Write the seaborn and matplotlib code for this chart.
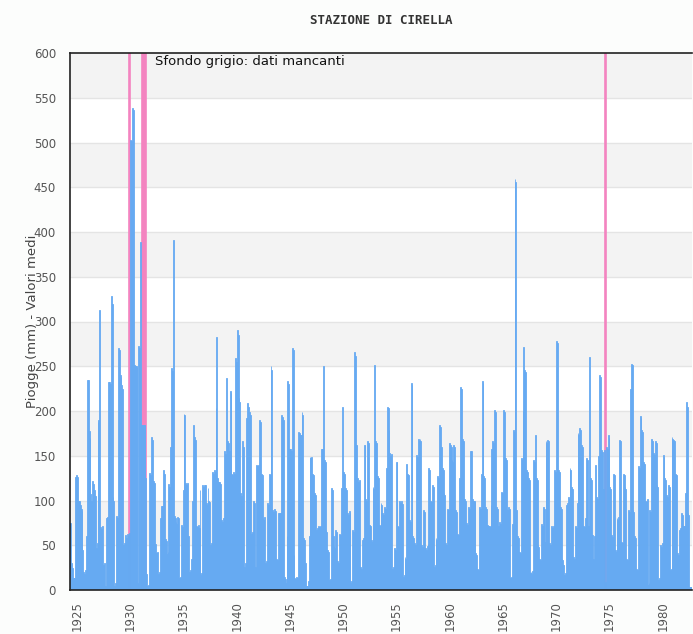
import numpy as np
import pandas as pd
import matplotlib
matplotlib.use("Agg")
import matplotlib.pyplot as plt
import seaborn as sns

# monthly rainfall (mm), May 1924 -> Sep 1982
piogge_1924_1929 = [
    75, 30, 25, 13, 13, 13, 126, 128,
    126, 100, 100, 95, 90, 88, 45, 20, 18, 22, 60, 235,
    235, 178, 170, 107, 100, 122, 118, 112, 105, 47, 52, 188,
    190, 313, 70, 68, 72, 28, 30, 3, 5, 80, 82, 232,
    232, 230, 328, 320, 104, 100, 5, 8, 83, 80, 270, 268,
    240, 238, 229, 225, 50, 52, 61, 58, 63, 60, 62, 64,
]
piogge_1930_1939 = [
    503, 502, 539, 536, 251, 250, 250, 249, 8, 273, 270, 389,
    184, 184, 184, 184, 184, 125, 18, 5, 6, 131, 128, 171,
    168, 78, 122, 120, 51, 41, 43, 18, 20, 80, 78, 94,
    94, 134, 130, 57, 55, 40, 42, 118, 115, 160, 248, 245,
    391, 83, 80, 76, 74, 82, 80, 13, 15, 73, 70, 112,
    197, 195, 119, 117, 119, 60, 20, 22, 35, 33, 100, 184,
    171, 168, 71, 70, 73, 69, 112, 17, 19, 117, 115, 117,
    117, 97, 95, 114, 100, 98, 50, 52, 132, 130, 134, 132,
    203, 283, 125, 121, 121, 118, 78, 76, 80, 78, 155, 152,
    237, 166, 164, 155, 222, 220, 130, 128, 132, 130, 259, 255,
]
piogge_1940_1949 = [
    291, 285, 214, 210, 108, 105, 166, 160, 26, 30, 192, 190,
    209, 205, 199, 196, 63, 65, 99, 97, 24, 26, 140, 138,
    140, 190, 188, 130, 128, 80, 78, 82, 30, 32, 97, 95,
    130, 128, 250, 246, 89, 87, 90, 88, 35, 33, 86, 84,
    86, 86, 195, 193, 190, 15, 12, 8, 60, 233, 230, 158,
    158, 155, 270, 268, 39, 13, 12, 14, 13, 177, 175, 173,
    173, 199, 196, 58, 56, 30, 4, 5, 10, 60, 149, 147,
    149, 130, 128, 108, 106, 67, 69, 68, 71, 70, 72, 158,
    158, 250, 145, 143, 67, 65, 45, 43, 11, 12, 114, 112,
    60, 49, 47, 67, 65, 32, 30, 63, 61, 114, 112, 205,
]
piogge_1950_1959 = [
    132, 130, 114, 112, 86, 84, 88, 86, 8, 10, 67, 65,
    266, 262, 162, 123, 125, 121, 123, 26, 24, 56, 58, 162,
    162, 102, 100, 166, 164, 73, 71, 56, 54, 115, 113, 251,
    166, 164, 127, 125, 73, 71, 97, 95, 86, 84, 93, 91,
    136, 205, 203, 179, 153, 150, 152, 24, 26, 47, 45, 143,
    143, 71, 70, 99, 97, 99, 96, 15, 17, 37, 35, 141,
    130, 128, 78, 76, 231, 229, 60, 58, 52, 50, 151, 149,
    169, 167, 169, 166, 50, 48, 89, 87, 47, 45, 49, 51,
    136, 134, 100, 98, 117, 115, 26, 28, 58, 56, 127, 125,
    184, 182, 160, 136, 134, 108, 106, 52, 50, 91, 89, 164,
]
piogge_1960_1969 = [
    162, 160, 145, 143, 162, 160, 89, 87, 63, 61, 125, 123,
    227, 225, 169, 167, 102, 100, 75, 73, 6, 93, 91, 155,
    155, 102, 100, 100, 98, 41, 39, 24, 22, 93, 91, 130,
    233, 231, 127, 125, 93, 91, 73, 71, 72, 70, 95, 158,
    166, 164, 201, 199, 93, 91, 72, 70, 76, 74, 110, 108,
    201, 199, 147, 145, 91, 89, 93, 90, 13, 15, 74, 179,
    177, 459, 456, 89, 60, 58, 43, 41, 147, 145, 200, 272,
    246, 244, 134, 132, 125, 123, 19, 20, 18, 21, 145, 143,
    173, 125, 123, 50, 48, 35, 33, 74, 72, 93, 91, 54,
    166, 164, 168, 166, 52, 50, 71, 69, 72, 70, 134, 132,
]
piogge_1970_1979 = [
    278, 276, 134, 132, 93, 91, 35, 33, 28, 17, 19, 95,
    97, 104, 102, 136, 134, 115, 113, 37, 35, 71, 69, 97,
    175, 173, 181, 179, 162, 160, 72, 70, 80, 78, 147, 145,
    71, 260, 125, 123, 61, 35, 33, 60, 140, 104, 102, 150,
    240, 238, 115, 156, 154, 113, 156, 9, 160, 158, 173, 170,
    115, 113, 61, 59, 130, 128, 45, 43, 80, 78, 82, 168,
    166, 54, 52, 130, 128, 115, 113, 35, 33, 89, 87, 225,
    253, 251, 89, 87, 60, 58, 24, 22, 138, 136, 194, 192,
    179, 177, 143, 141, 100, 98, 102, 6, 8, 89, 87, 169,
    167, 153, 151, 166, 164, 117, 115, 11, 13, 50, 48, 52,
]
piogge_1980_1982 = [
    151, 149, 125, 123, 106, 104, 117, 115, 22, 24, 171, 169,
    168, 166, 130, 128, 41, 39, 67, 65, 69, 86, 84, 71,
    71, 108, 210, 205, 86, 84, 3, 3, 3,
]

# months without data (pink background)
mesi_mancanti = ["1929-12", "1931-02", "1931-03", "1931-04", "1931-05", "1931-06", "1974-08"]
anni_tick = list(range(1925, 1985, 5))

piogge = (piogge_1924_1929 + piogge_1930_1939 + piogge_1940_1949 + piogge_1950_1959
          + piogge_1960_1969 + piogge_1970_1979 + piogge_1980_1982)

mesi = pd.period_range("1924-05", periods=len(piogge), freq="M")
inizio = np.asarray(mesi.year + (mesi.month - 1) / 12, dtype=float)
df = pd.DataFrame({"anno": inizio + 1 / 24, "mm": piogge})
x_min = float(inizio[0])
x_max = float(inizio[-1] + 1 / 12)

blu = "#66aaf2"
rosa = "#f384c0"

sns.set_theme(style="white")
plt.rcParams["font.family"] = ["DejaVu Sans"]

fig = plt.figure(figsize=(6.93, 6.34), dpi=100, facecolor="#fcfdfc")
ax = fig.add_axes([70 / 693, 44 / 634, 622 / 693, 537 / 634])
ax.set_facecolor("white")

# alternating horizontal bands + grid lines
for y0 in range(50, 600, 100):
    ax.axhspan(y0, y0 + 50, color="#f3f3f3", zorder=0, lw=0)
for y in range(50, 600, 50):
    ax.axhline(y, color="#e4e4e4", lw=1, zorder=0.5)

for m in mesi_mancanti:
    p = pd.Period(m, freq="M")
    x0 = p.year + (p.month - 1) / 12
    ax.axvspan(x0, x0 + 1 / 12, facecolor=rosa, edgecolor=rosa, lw=1.2, zorder=1)

# thin edges in the same colour keep single-month spikes solid
sns.histplot(data=df, x="anno", weights="mm", binwidth=1 / 12, binrange=(x_min, x_max),
             color=blu, alpha=1, edgecolor=blu, linewidth=0.6, ax=ax, zorder=3)

ax.set_xlim(x_min, x_max)
ax.set_ylim(0, 600)
ax.set_yticks(range(0, 650, 50))
ax.set_xticks(anni_tick)
ax.set_xticklabels([str(a) for a in anni_tick], rotation=90)
ax.tick_params(axis="both", length=0, labelsize=8.5, labelcolor="#555555")
ax.tick_params(axis="x", pad=8)
ax.tick_params(axis="y", pad=10)

ax.set_xlabel("")
ax.set_ylabel("Piogge (mm) - Valori medi", fontsize=9.5, color="#444444")
ax.yaxis.set_label_coords(-0.05, 0.5)

for side in ["left", "top", "bottom"]:
    ax.spines[side].set_color("#222222")
    ax.spines[side].set_linewidth(1.2)
    ax.spines[side].set_zorder(5)
ax.spines["right"].set_visible(False)

ax.text(0.137, 0.997, "Sfondo grigio: dati mancanti", transform=ax.transAxes,
        ha="left", va="top", fontsize=9.5, color="#111111", zorder=6)

fig.text(381 / 693, 1 - 20 / 634, "STAZIONE DI CIRELLA", ha="center", va="center",
         fontsize=9, fontweight="bold", family="DejaVu Sans Mono", color="#333333")

fig.savefig("out.png", dpi=100, facecolor=fig.get_facecolor())
